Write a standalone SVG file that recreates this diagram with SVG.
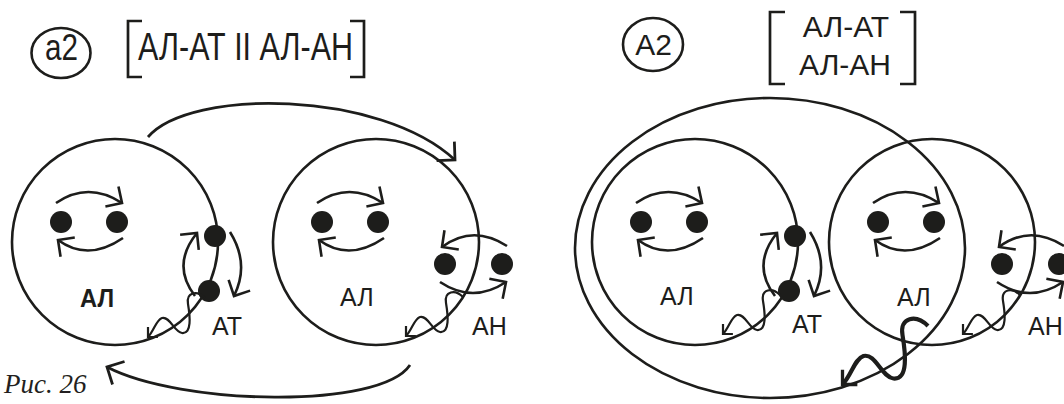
<svg xmlns="http://www.w3.org/2000/svg" width="1064" height="404" viewBox="0 0 1064 404">
<style>
.ln{fill:none;stroke:#1d1d1b;stroke-width:2.6}
.dot{fill:#1d1d1b}
.t{font-family:"Liberation Sans",Arial,sans-serif;fill:#1d1d1b}
.lab{font-size:25px}
.sw{fill:none;stroke:#1d1d1b;stroke-width:2.6;marker-end:url(#ah)}
.big{fill:none;stroke:#1d1d1b;stroke-width:2.8;marker-end:url(#ahb)}
.wv{fill:none;stroke:#1d1d1b;stroke-width:2.2;marker-end:url(#ahs)}
.br{fill:none;stroke:#1d1d1b;stroke-width:2.7}
</style>
<defs>
<marker id="ah" markerUnits="userSpaceOnUse" viewBox="-20 -20 40 40" markerWidth="40" markerHeight="40" refX="0" refY="0" orient="auto" overflow="visible">
<path d="M-12,-12 L0,0 L-12,12" fill="none" stroke="#1d1d1b" stroke-width="2.6"/>
</marker>
<marker id="ahb" markerUnits="userSpaceOnUse" viewBox="-20 -20 40 40" markerWidth="40" markerHeight="40" refX="0" refY="0" orient="auto" overflow="visible">
<path d="M-13,-13 L0,0 L-13,13" fill="none" stroke="#1d1d1b" stroke-width="2.8"/>
</marker>
<marker id="ahs" markerUnits="userSpaceOnUse" viewBox="-10 -10 20 20" markerWidth="20" markerHeight="20" refX="0" refY="0" orient="auto" overflow="visible">
<path d="M-7,-7 L0,0 L-7,7" fill="none" stroke="#1d1d1b" stroke-width="2.2"/>
</marker>
<path id="wave" d="M205,298 C197,290 186,292 188,304 C190,316 192,334 182,333 C174,332 170,316 162,318 C156,320 154,331 148,337"/>
</defs>

<g id="label-a2">
<ellipse class="ln" cx="61" cy="53" rx="29.5" ry="25"/>
<text class="t" x="61.5" y="60" font-size="37" text-anchor="middle" textLength="33" lengthAdjust="spacingAndGlyphs">a2</text>
</g>
<g id="formula-a2">
<path class="br" d="M142,21 H128 V77 H142 M350,21 H364 V77 H350"/>
<text class="t" x="138" y="60" font-size="38" textLength="215" lengthAdjust="spacingAndGlyphs">АЛ-АТ II АЛ-АН</text>
</g>

<g id="left-AL1">
<circle class="ln" cx="115" cy="242" r="103"/>
<circle class="dot" cx="61" cy="222" r="11"/>
<circle class="dot" cx="117" cy="222" r="11"/>
<path class="sw" d="M56,203 Q88,181 122,203"/>
<path class="sw" d="M123,238 Q88,262 58,240"/>
<text class="t lab" x="80" y="307" font-weight="bold" textLength="34" lengthAdjust="spacingAndGlyphs">АЛ</text>
</g>
<g id="left-AT">
<circle class="dot" cx="215" cy="236" r="11"/>
<circle class="dot" cx="209" cy="291" r="11"/>
<path class="sw" d="M195,296 Q171,265 197,233"/>
<path class="sw" d="M230,232 Q250,264 234,296"/>
<use href="#wave" class="wv"/>
<text class="t lab" x="212" y="335">АТ</text>
</g>
<g id="left-AL2">
<circle class="ln" cx="376" cy="242" r="103"/>
<circle class="dot" cx="322" cy="222" r="11"/>
<circle class="dot" cx="378" cy="222" r="11"/>
<path class="sw" d="M317,203 Q349,181 383,203"/>
<path class="sw" d="M384,238 Q349,262 319,240"/>
<text class="t lab" x="340" y="306">АЛ</text>
</g>
<g id="left-AH">
<circle class="dot" cx="445" cy="264" r="11"/>
<circle class="dot" cx="502" cy="264" r="11"/>
<path class="sw" d="M507,246 Q473,224 442,247"/>
<path class="sw" d="M440,282 Q473,304 506,282"/>
<use href="#wave" class="wv" transform="translate(258,-1)"/>
<text class="t lab" x="472" y="335">АН</text>
</g>

<g id="connectors">
<path class="big" d="M148,137 C190,88 380,90 455,160"/>
<path class="big" d="M410,365 C380,410 180,405 107,367"/>
</g>

<text id="caption" x="4" y="393" font-family="'Liberation Serif',serif" font-style="italic" font-size="27" fill="#231f20">Рис. 26</text>

<g id="label-A2">
<ellipse class="ln" cx="653" cy="44.5" rx="30" ry="26.5"/>
<text class="t" x="653.5" y="55" font-size="30" text-anchor="middle">A2</text>
</g>
<g id="formula-A2">
<path class="br" d="M785,12 H770 V84 H785 M900,12 H915 V84 H900"/>
<text class="t" x="846" y="37" font-size="30" text-anchor="middle">АЛ-АТ</text>
<text class="t" x="845" y="75" font-size="30" text-anchor="middle">АЛ-АН</text>
</g>

<g id="right-outer">
<ellipse class="ln" cx="770" cy="248" rx="195" ry="150"/>
</g>
<g id="right-AL1">
<circle class="ln" cx="695" cy="242" r="103"/>
<circle class="dot" cx="641" cy="222" r="11"/>
<circle class="dot" cx="697" cy="222" r="11"/>
<path class="sw" d="M636,203 Q668,181 702,203"/>
<path class="sw" d="M703,238 Q668,262 638,240"/>
<text class="t lab" x="660" y="305">АЛ</text>
</g>
<g id="right-AT">
<circle class="dot" cx="795" cy="236" r="11"/>
<circle class="dot" cx="789" cy="291" r="11"/>
<path class="sw" d="M775,296 Q751,265 777,233"/>
<path class="sw" d="M810,232 Q830,264 814,296"/>
<use href="#wave" class="wv" transform="translate(575,-3)"/>
<text class="t lab" x="792" y="333">АТ</text>
</g>
<g id="right-AL2">
<circle class="ln" cx="932" cy="242" r="103"/>
<circle class="dot" cx="878" cy="222" r="11"/>
<circle class="dot" cx="934" cy="222" r="11"/>
<path class="sw" d="M873,203 Q905,181 939,203"/>
<path class="sw" d="M940,238 Q905,262 875,240"/>
<text class="t lab" x="897" y="306">АЛ</text>
</g>
<g id="right-AH">
<circle class="dot" cx="1002" cy="264" r="11"/>
<circle class="dot" cx="1059" cy="264" r="11"/>
<path class="sw" d="M1064,246 Q1030,224 999,247"/>
<path class="sw" d="M997,282 Q1030,304 1063,282"/>
<use href="#wave" class="wv" transform="translate(815,-3)"/>
<text class="t lab" x="1028" y="335">АН</text>
</g>
<g id="right-thick-wave">
<use href="#wave" class="wv" style="stroke-width:2.8" transform="translate(928,326) scale(1.5) translate(-205,-298)"/>
</g>
</svg>
